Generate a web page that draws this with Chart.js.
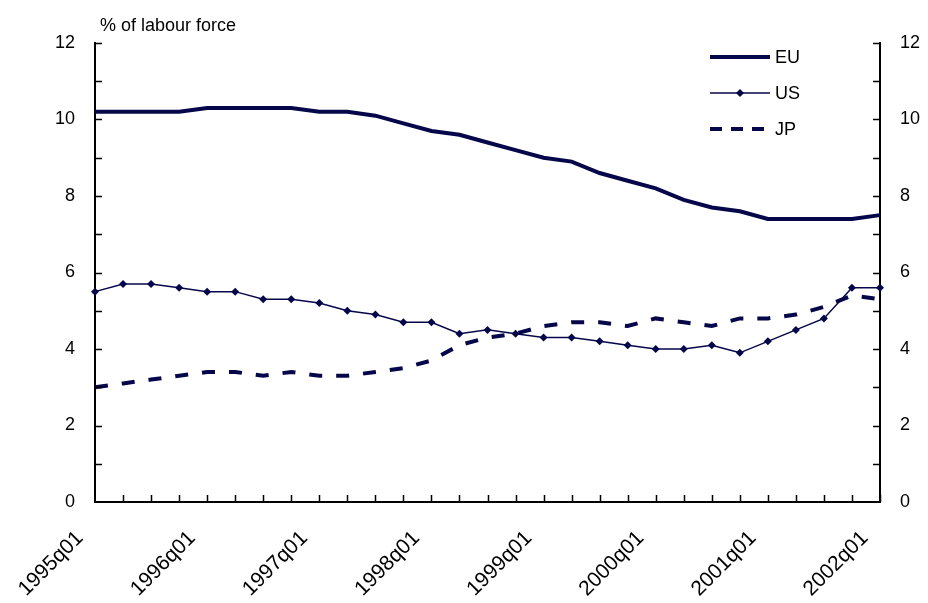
<!DOCTYPE html>
<html lang="en">
<head>
    <meta charset="UTF-8">
    <title>Unemployment rate EU, US, JP</title>
    <style>
        html, body {
            margin: 0;
            padding: 0;
            background-color: #fff;
        }
        .chart-box {
            width: 928px;
            height: 603px;
        }
    </style>
</head>
<body>
    <div class="chart-box">
        <canvas id="unempChart" width="928" height="603"></canvas>
    </div>
    <script src="https://cdn.jsdelivr.net/npm/chart.js"></script>
    <script>
        const quarters = [
            '1995q01', '1995q02', '1995q03', '1995q04',
            '1996q01', '1996q02', '1996q03', '1996q04',
            '1997q01', '1997q02', '1997q03', '1997q04',
            '1998q01', '1998q02', '1998q03', '1998q04',
            '1999q01', '1999q02', '1999q03', '1999q04',
            '2000q01', '2000q02', '2000q03', '2000q04',
            '2001q01', '2001q02', '2001q03', '2001q04',
            '2002q01'
        ];
        const euRate = [10.2, 10.2, 10.2, 10.2, 10.3, 10.3, 10.3, 10.3, 10.2, 10.2, 10.1, 9.9, 9.7, 9.6, 9.4, 9.2,
            9.0, 8.9, 8.6, 8.4, 8.2, 7.9, 7.7, 7.6, 7.4, 7.4, 7.4, 7.4, 7.5];
        const usRate = [5.5, 5.7, 5.7, 5.6, 5.5, 5.5, 5.3, 5.3, 5.2, 5.0, 4.9, 4.7, 4.7, 4.4, 4.5, 4.4,
            4.3, 4.3, 4.2, 4.1, 4.0, 4.0, 4.1, 3.9, 4.2, 4.5, 4.8, 5.6, 5.6];
        const jpRate = [3.0, 3.1, 3.2, 3.3, 3.4, 3.4, 3.3, 3.4, 3.3, 3.3, 3.4, 3.5, 3.7, 4.1, 4.3, 4.4,
            4.6, 4.7, 4.7, 4.6, 4.8, 4.7, 4.6, 4.8, 4.8, 4.9, 5.1, 5.4, 5.3];
        const yTicks = [0, 2, 4, 6, 8, 10, 12];

        const navy = '#06064a';
        const fontFamily = '"Liberation Sans", Arial, sans-serif';

        // tick marks point into the plot, like the original
        const innerTicks = {
            id: 'innerTicks',
            afterDatasetsDraw(chart) {
                const ctx = chart.ctx;
                const area = chart.chartArea;
                const x = chart.scales.x;
                const y = chart.scales.y;
                ctx.save();
                ctx.strokeStyle = '#000';
                ctx.lineWidth = 1.5;
                ctx.beginPath();
                for (let i = 1; i < quarters.length; i++) {
                    const px = Math.round(x.getPixelForValue(i)) + 0.5;
                    ctx.moveTo(px, area.bottom);
                    ctx.lineTo(px, area.bottom - 7);
                }
                for (let v = 1; v <= 12; v++) {
                    const py = Math.round(y.getPixelForValue(v)) + 0.5;
                    ctx.moveTo(area.left, py);
                    ctx.lineTo(area.left + 7, py);
                    ctx.moveTo(area.right, py);
                    ctx.lineTo(area.right - 7, py);
                }
                ctx.stroke();
                ctx.restore();
            }
        };

        const sideText = {
            id: 'sideText',
            afterDraw(chart) {
                const ctx = chart.ctx;
                ctx.save();
                ctx.fillStyle = '#000';
                ctx.font = '18px ' + fontFamily;
                ctx.textBaseline = 'alphabetic';
                ctx.fillText('% of labour force', 100, 31);

                // legend
                const lx = 710, lw = 60;
                const rows = [
                    { label: 'EU', y: 57 },
                    { label: 'US', y: 93 },
                    { label: 'JP', y: 129 }
                ];
                ctx.strokeStyle = navy;
                ctx.fillStyle = navy;

                ctx.lineWidth = 4;
                ctx.beginPath();
                ctx.moveTo(lx, rows[0].y);
                ctx.lineTo(lx + lw, rows[0].y);
                ctx.stroke();

                ctx.lineWidth = 1.5;
                ctx.beginPath();
                ctx.moveTo(lx, rows[1].y);
                ctx.lineTo(lx + lw, rows[1].y);
                ctx.stroke();
                ctx.beginPath();
                ctx.moveTo(lx + lw / 2, rows[1].y - 4);
                ctx.lineTo(lx + lw / 2 + 4, rows[1].y);
                ctx.lineTo(lx + lw / 2, rows[1].y + 4);
                ctx.lineTo(lx + lw / 2 - 4, rows[1].y);
                ctx.closePath();
                ctx.fill();

                ctx.lineWidth = 4;
                ctx.setLineDash([12, 9]);
                ctx.beginPath();
                ctx.moveTo(lx, rows[2].y);
                ctx.lineTo(lx + lw, rows[2].y);
                ctx.stroke();
                ctx.setLineDash([]);

                ctx.fillStyle = '#000';
                ctx.textBaseline = 'middle';
                rows.forEach(r => ctx.fillText(r.label, lx + lw + 5, r.y + 1));
                ctx.restore();
            }
        };

        const ctx = document.getElementById('unempChart').getContext('2d');
        const unempChart = new Chart(ctx, {
            type: 'line',
            data: {
                labels: quarters,
                datasets: [
                    {
                        label: 'EU',
                        data: euRate,
                        borderColor: navy,
                        borderWidth: 4,
                        pointRadius: 0,
                        tension: 0,
                        clip: false,
                    },
                    {
                        label: 'US',
                        data: usRate,
                        borderColor: navy,
                        backgroundColor: navy,
                        borderWidth: 1.5,
                        pointStyle: 'rectRot',
                        pointRadius: 4,
                        pointBorderWidth: 0,
                        tension: 0,
                        clip: false,
                    },
                    {
                        label: 'JP',
                        data: jpRate,
                        borderColor: navy,
                        borderWidth: 4,
                        borderDash: [13, 14],
                        pointRadius: 0,
                        tension: 0,
                        clip: false,
                    }
                ]
            },
            options: {
                responsive: false,
                devicePixelRatio: 1,
                animation: false,
                layout: {
                    padding: { top: 43, left: 0, right: 0, bottom: 0 }
                },
                plugins: {
                    legend: { display: false },
                    tooltip: { enabled: false },
                },
                scales: {
                    x: {
                        type: 'category',
                        offset: false,
                        grid: { display: false, drawTicks: false },
                        border: { display: true, color: '#000', width: 2 },
                        ticks: {
                            autoSkip: false,
                            maxRotation: 45,
                            minRotation: 45,
                            padding: 24,
                            labelOffset: -15,
                            color: '#000',
                            font: { family: fontFamily, size: 21 },
                            callback: (val, i) => (i % 4 === 0 ? quarters[i] : ''),
                        },
                        afterFit: s => { s.height = 101; },
                    },
                    y: {
                        position: 'left',
                        min: 0,
                        max: 12,
                        grid: { display: false, drawTicks: false },
                        border: { display: true, color: '#000', width: 2 },
                        afterBuildTicks: s => { s.ticks = yTicks.map(v => ({ value: v })); },
                        ticks: {
                            padding: 20,
                            color: '#000',
                            font: { family: fontFamily, size: 18 },
                        },
                        afterFit: s => { s.width = 95; },
                    },
                    y2: {
                        position: 'right',
                        min: 0,
                        max: 12,
                        grid: { display: false, drawTicks: false },
                        border: { display: true, color: '#000', width: 2 },
                        afterBuildTicks: s => { s.ticks = yTicks.map(v => ({ value: v })); },
                        ticks: {
                            padding: 20,
                            color: '#000',
                            font: { family: fontFamily, size: 18 },
                        },
                        afterFit: s => { s.width = 48; },
                    },
                },
            },
            plugins: [innerTicks, sideText],
        });
    </script>
</body>
</html>
